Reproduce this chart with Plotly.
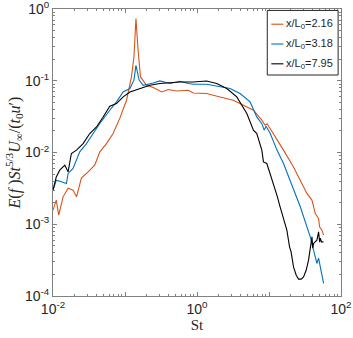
import plotly.graph_objects as go

# spectra (St, premultiplied spectrum)
st_216 = [0.0100, 0.0111, 0.0120, 0.0138, 0.0162, 0.0190, 0.0212, 0.0248, 0.0307, 0.0380,
          0.0447, 0.0553, 0.0684, 0.0848, 0.105, 0.123, 0.133, 0.142, 0.152, 0.164,
          0.199, 0.247, 0.323, 0.399, 0.522, 0.757, 0.889, 1.36, 2.09, 3.20,
          4.41, 6.08, 7.95, 8.83, 9.42, 11.5, 15.9, 21.9, 27.2, 33.6,
          39.5, 43.9, 48.8, 50.4, 54.4, 57.3]
e_216 = [1.57e-3, 2.17e-3, 1.34e-3, 2.41e-3, 3.18e-3, 2.99e-3, 2.41e-3, 4.39e-3, 5.37e-3, 6.66e-3,
         0.0102, 0.0133, 0.0184, 0.0301, 0.0535, 0.113, 0.214, 0.735, 0.266, 0.113,
         0.0865, 0.0804, 0.0698, 0.0754, 0.0721, 0.0738, 0.0676, 0.0663, 0.0595, 0.0535,
         0.0456, 0.0388, 0.0282, 0.0240, 0.0252, 0.0184, 0.0108, 6.30e-3, 4.11e-3, 2.69e-3,
         2.17e-3, 1.41e-3, 1.20e-3, 9.2e-4, 8.28e-4, 7.05e-4]

st_318 = [0.0100, 0.0111, 0.0131, 0.0154, 0.0162, 0.0190, 0.0235, 0.0292, 0.0361, 0.0447,
          0.0615, 0.0762, 0.0942, 0.117, 0.133, 0.142, 0.157, 0.179, 0.247, 0.305,
          0.421, 0.580, 0.757, 0.889, 1.36, 2.09, 2.88, 3.96, 5.46, 6.77,
          8.03, 8.56, 9.12, 10.4, 12.9, 15.9, 19.7, 27.2, 37.4, 46.3,
          48.8, 57.3]
e_318 = [2.99e-3, 4.11e-3, 3.90e-3, 3.70e-3, 5.10e-3, 5.99e-3, 0.0102, 0.0133, 0.0184, 0.0254,
         0.0388, 0.0507, 0.0698, 0.0778, 0.102, 0.164, 0.102, 0.0865, 0.0932, 0.0994,
         0.0914, 0.0985, 0.0914, 0.0894, 0.0894, 0.0820, 0.0778, 0.0663, 0.0507, 0.0313,
         0.0248, 0.0205, 0.0232, 0.0184, 0.0108, 7.03e-3, 4.11e-3, 1.75e-3, 6.68e-4, 2.84e-4,
         3.37e-4, 1.50e-4]

st_795 = [0.0100, 0.0111, 0.0124, 0.0146, 0.0162, 0.0180, 0.0212, 0.0262, 0.0324, 0.0402,
          0.0497, 0.0615, 0.0762, 0.0942, 0.117, 0.161, 0.222, 0.305, 0.421, 0.580,
          0.889, 1.36, 1.88, 2.59, 3.57, 4.92, 6.08, 6.77, 7.95, 8.37,
          9.33, 11.0, 11.8, 13.0, 14.3, 16.3, 17.7, 19.3, 20.3, 21.9,
          23.9, 25.7, 28.0, 30.2, 32.9, 35.4, 37.4, 39.5, 40.5, 41.6,
          46.3, 48.8, 50.6, 51.5, 53.8, 57.3]
e_795 = [2.99e-3, 4.57e-3, 5.67e-3, 6.66e-3, 5.37e-3, 9.68e-3, 0.0108, 0.0133, 0.0184, 0.0227,
         0.0313, 0.0441, 0.0481, 0.0595, 0.0698, 0.0778, 0.0865, 0.0914, 0.0932, 0.0962,
         0.0962, 0.0994, 0.0914, 0.0778, 0.0595, 0.0349, 0.0205, 0.0184, 0.0108, 7.40e-3,
         7.03e-3, 4.11e-3, 3.51e-3, 2.46e-3, 1.73e-3, 1.14e-3, 8.28e-4, 4.84e-4, 4.08e-4, 2.55e-4,
         1.95e-4, 1.72e-4, 1.72e-4, 1.85e-4, 2.30e-4, 3.16e-4, 4.84e-4, 6.68e-4, 4.65e-4, 5.40e-4,
         6.01e-4, 7.83e-4, 5.63e-4, 6.40e-4, 5.63e-4, 5.69e-4]

names = ['x/L<sub>0</sub>=2.16', 'x/L<sub>0</sub>=3.18', 'x/L<sub>0</sub>=7.95']
colors = ['#D95319', '#0072BD', '#000000']

fig = go.Figure()
for st, e, name, c in zip([st_216, st_318, st_795], [e_216, e_318, e_795], names, colors):
    fig.add_trace(go.Scatter(x=st, y=e, mode='lines', name=name, showlegend=False,
                             line=dict(color=c, width=1.1)))

# compact MATLAB-style legend box drawn in paper coordinates
fig.add_shape(type='rect', xref='paper', yref='paper', x0=0.744, x1=0.990, y0=0.770, y1=0.995,
              line=dict(color='#262626', width=1), fillcolor='white', layer='above')
for i, (name, c) in enumerate(zip(names, colors)):
    yy = 0.947 - i * 0.069
    fig.add_shape(type='line', xref='paper', yref='paper', x0=0.758, x1=0.800, y0=yy, y1=yy,
                  line=dict(color=c, width=1.1), layer='above')
    fig.add_annotation(x=0.802, y=yy, xref='paper', yref='paper', text=name, showarrow=False,
                       xanchor='left', yanchor='middle',
                       font=dict(family='Liberation Sans, Arial', size=11, color='#262626'))


# minor ticks 2..9 in each decade
def minor_vals(lo, hi):
    return [m * 10.0 ** d for d in range(lo, hi) for m in range(2, 10)]


axis_common = dict(type='log', showgrid=False, zeroline=False, showline=True, automargin=False,
                   linecolor='#808080', linewidth=1, mirror='ticks', ticklabeloverflow='allow',
                   ticks='inside', ticklen=4, tickcolor='#808080',
                   tickfont=dict(family='Liberation Sans, Arial', size=14, color='#262626'))

fig.update_xaxes(range=[-2, 2],
                 tickvals=[0.01, 0.1, 1, 10, 100],
                 ticktext=['10<sup>-2</sup>', '', '10<sup>0</sup>', '', '10<sup>2</sup>'],
                 minor=dict(ticks='inside', ticklen=2, tickcolor='#808080', tickvals=minor_vals(-2, 2)),
                 title=dict(text='St', font=dict(family='Liberation Serif, Times New Roman', size=15, color='#262626'),
                            standoff=0),
                 **axis_common)
fig.update_yaxes(range=[-4, 0],
                 tickvals=[1e-4, 1e-3, 1e-2, 1e-1, 1],
                 ticktext=['10<sup>-4</sup>', '10<sup>-3</sup>', '10<sup>-2</sup>', '10<sup>-1</sup>', '10<sup>0</sup>'],
                 minor=dict(ticks='inside', ticklen=2, tickcolor='#808080', tickvals=minor_vals(-4, 0)),
                 title=dict(text='<i>E</i>(<i>f</i> )<i>St</i><sup>5/3</sup><i>U</i><sub>∞</sub>/(<i>t</i><sub>0</sub><i>u</i>′)',
                            font=dict(family='Liberation Serif, Times New Roman', size=16, color='#262626'),
                            standoff=0),
                 **axis_common)

fig.update_layout(width=353, height=338,
                  margin=dict(l=53, r=12, t=9, b=42),
                  plot_bgcolor='white', paper_bgcolor='white',
                  showlegend=False)

fig.write_html("out.html", config={'displayModeBar': False},
               post_script="document.body.style.margin='0';")
